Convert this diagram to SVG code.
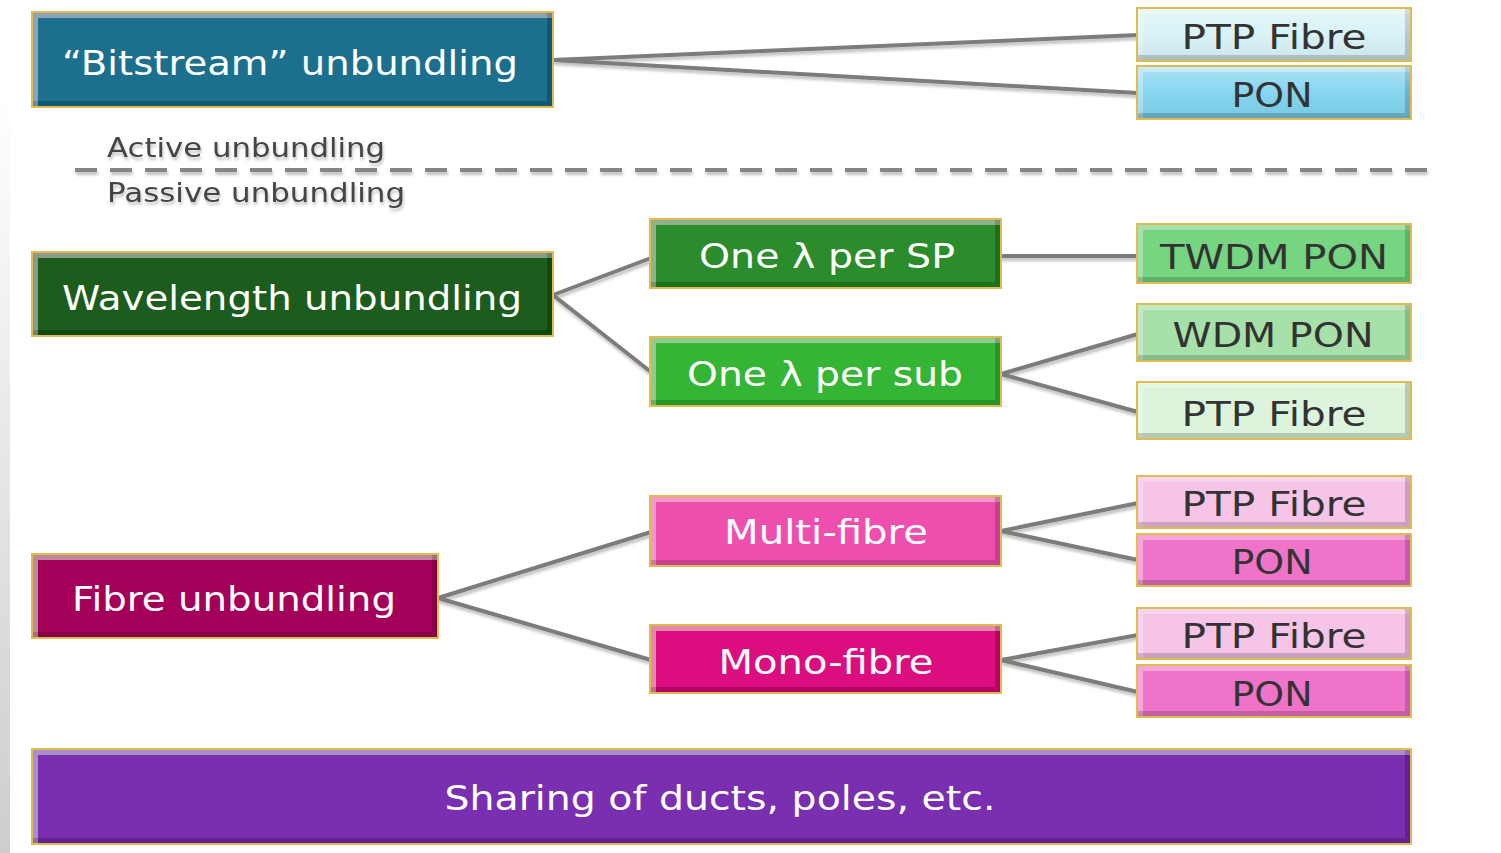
<svg xmlns="http://www.w3.org/2000/svg" width="1501" height="853" viewBox="0 0 1501 853">
  <defs>
    <style>
      .edge { fill: #e2bb4e; }
      .box { filter: url(#bevel); }
      .lbl { font-family: "DejaVu Sans", Verdana, sans-serif; font-size: 34px; text-anchor: middle; }
      .light { fill: #ffffff; }
      .dark { fill: #333333; }
      .side { font-family: "DejaVu Sans", Verdana, sans-serif; font-size: 26px; fill: #444444; filter: url(#soft); }
      .wire { stroke: #7c7c7c; stroke-width: 4; fill: none; stroke-linecap: round; }
    </style>
    <linearGradient id="strip" x1="0" y1="0" x2="0" y2="1">
      <stop offset="0" stop-color="#ffffff"/>
      <stop offset="1" stop-color="#cdcdcd"/>
    </linearGradient>
    <linearGradient id="gloss" x1="0" y1="0" x2="0" y2="1">
      <stop offset="0" stop-color="#ffffff" stop-opacity="0.35"/>
      <stop offset="0.5" stop-color="#ffffff" stop-opacity="0.05"/>
      <stop offset="1" stop-color="#000000" stop-opacity="0.05"/>
    </linearGradient>
    <!-- bevelled edges: light top/left band, dark bottom/right band -->
    <filter id="bevel" x="-5%" y="-10%" width="110%" height="120%">
      <feOffset in="SourceAlpha" dx="5" dy="5" result="o1"/>
      <feComposite in="SourceAlpha" in2="o1" operator="out" result="tl"/>
      <feFlood flood-color="#ffffff" flood-opacity="0.25"/>
      <feComposite in2="tl" operator="in" result="hi"/>
      <feOffset in="SourceAlpha" dx="-5" dy="-5" result="o2"/>
      <feComposite in="SourceAlpha" in2="o2" operator="out" result="br"/>
      <feFlood flood-color="#000000" flood-opacity="0.35"/>
      <feComposite in2="br" operator="in" result="sh"/>
      <feMerge>
        <feMergeNode in="SourceGraphic"/>
        <feMergeNode in="hi"/>
        <feMergeNode in="sh"/>
      </feMerge>
    </filter>
    <!-- soft drop shadow, sized in user space so thin horizontal lines keep it -->
    <filter id="soft" filterUnits="userSpaceOnUse" x="0" y="0" width="1501" height="853">
      <feGaussianBlur in="SourceAlpha" stdDeviation="1.5"/>
      <feOffset dx="1" dy="3" result="b"/>
      <feFlood flood-color="#000000" flood-opacity="0.25"/>
      <feComposite in2="b" operator="in" result="s"/>
      <feMerge><feMergeNode in="s"/><feMergeNode in="SourceGraphic"/></feMerge>
    </filter>
  </defs>

  <rect width="1501" height="853" fill="#ffffff"/>
  <rect x="0" y="93" width="10" height="760" fill="url(#strip)"/>

  <!-- connectors -->
  <g id="connectors" filter="url(#soft)">
    <path class="wire" d="M553 60 L1138 35 M553 60 L1138 93"/>
    <path class="wire" d="M553 295 L651 258 M553 295 L651 372"/>
    <path class="wire" d="M1001 256 L1138 256"/>
    <path class="wire" d="M1001 374 L1138 334 M1001 374 L1138 412"/>
    <path class="wire" d="M438 598 L651 532 M438 598 L651 660"/>
    <path class="wire" d="M1001 531 L1138 503 M1001 531 L1138 560"/>
    <path class="wire" d="M1001 660 L1138 635 M1001 660 L1138 692"/>
  </g>

  <!-- active / passive divider -->
  <g id="divider">
    <line x1="75" y1="170" x2="1440" y2="170" stroke="#858585" stroke-width="4" stroke-dasharray="22 13" filter="url(#soft)"/>
    <text class="side" x="107" y="157" textLength="278" lengthAdjust="spacingAndGlyphs">Active unbundling</text>
    <text class="side" x="107" y="202" textLength="298" lengthAdjust="spacingAndGlyphs">Passive unbundling</text>
  </g>

  <g id="bitstream">
    <rect class="edge" x="31" y="11" width="523" height="97"/>
    <rect class="box" x="33" y="13" width="519" height="93" fill="#1b6f8e"/>
    <text class="lbl light" x="290" y="75" textLength="456" lengthAdjust="spacingAndGlyphs">“Bitstream” unbundling</text>
  </g>
  <g id="ptp-active">
    <rect class="edge" x="1136" y="7" width="276" height="55"/>
    <rect class="box" x="1138" y="9" width="272" height="51" fill="#d6f2f6"/>
    <rect x="1138" y="9" width="272" height="51" fill="url(#gloss)"/>
    <text class="lbl dark" x="1274" y="49" textLength="185" lengthAdjust="spacingAndGlyphs">PTP Fibre</text>
  </g>
  <g id="pon-active">
    <rect class="edge" x="1136" y="65" width="276" height="55"/>
    <rect class="box" x="1138" y="67" width="272" height="51" fill="#80d3ef"/>
    <rect x="1138" y="67" width="272" height="51" fill="url(#gloss)"/>
    <text class="lbl dark" x="1272" y="107" textLength="81" lengthAdjust="spacingAndGlyphs">PON</text>
  </g>

  <g id="wavelength">
    <rect class="edge" x="31" y="251" width="523" height="86"/>
    <rect class="box" x="33" y="253" width="519" height="82" fill="#1f5c1f"/>
    <text class="lbl light" x="292" y="310" textLength="460" lengthAdjust="spacingAndGlyphs">Wavelength unbundling</text>
  </g>
  <g id="lambda-sp">
    <rect class="edge" x="649" y="218" width="353" height="71"/>
    <rect class="box" x="651" y="220" width="349" height="67" fill="#2a8c2a"/>
    <text class="lbl light" x="827" y="268" textLength="256" lengthAdjust="spacingAndGlyphs">One λ per SP</text>
  </g>
  <g id="lambda-sub">
    <rect class="edge" x="649" y="336" width="353" height="71"/>
    <rect class="box" x="651" y="338" width="349" height="67" fill="#36b536"/>
    <text class="lbl light" x="825" y="386" textLength="276" lengthAdjust="spacingAndGlyphs">One λ per sub</text>
  </g>
  <g id="twdm-pon">
    <rect class="edge" x="1136" y="223" width="276" height="61"/>
    <rect class="box" x="1138" y="225" width="272" height="57" fill="#74d580"/>
    <text class="lbl dark" x="1274" y="269" textLength="228" lengthAdjust="spacingAndGlyphs">TWDM PON</text>
  </g>
  <g id="wdm-pon">
    <rect class="edge" x="1136" y="303" width="276" height="59"/>
    <rect class="box" x="1138" y="305" width="272" height="55" fill="#a7e1a9"/>
    <text class="lbl dark" x="1273" y="347" textLength="201" lengthAdjust="spacingAndGlyphs">WDM PON</text>
  </g>
  <g id="ptp-wdm">
    <rect class="edge" x="1136" y="381" width="276" height="59"/>
    <rect class="box" x="1138" y="383" width="272" height="55" fill="#dcf4dc"/>
    <text class="lbl dark" x="1274" y="426" textLength="185" lengthAdjust="spacingAndGlyphs">PTP Fibre</text>
  </g>

  <g id="fibre">
    <rect class="edge" x="31" y="553" width="408" height="86"/>
    <rect class="box" x="33" y="555" width="404" height="82" fill="#a4005a"/>
    <text class="lbl light" x="234" y="611" textLength="324" lengthAdjust="spacingAndGlyphs">Fibre unbundling</text>
  </g>
  <g id="multi-fibre">
    <rect class="edge" x="649" y="495" width="353" height="72"/>
    <rect class="box" x="651" y="497" width="349" height="68" fill="#ee50ae"/>
    <text class="lbl light" x="826" y="544" textLength="204" lengthAdjust="spacingAndGlyphs">Multi-fibre</text>
  </g>
  <g id="mono-fibre">
    <rect class="edge" x="649" y="624" width="353" height="70"/>
    <rect class="box" x="651" y="626" width="349" height="66" fill="#dc0f7e"/>
    <text class="lbl light" x="826" y="674" textLength="215" lengthAdjust="spacingAndGlyphs">Mono-fibre</text>
  </g>
  <g id="ptp-multi">
    <rect class="edge" x="1136" y="475" width="276" height="54"/>
    <rect class="box" x="1138" y="477" width="272" height="50" fill="#f6c4e7"/>
    <text class="lbl dark" x="1274" y="516" textLength="185" lengthAdjust="spacingAndGlyphs">PTP Fibre</text>
  </g>
  <g id="pon-multi">
    <rect class="edge" x="1136" y="533" width="276" height="54"/>
    <rect class="box" x="1138" y="535" width="272" height="50" fill="#ef73c8"/>
    <text class="lbl dark" x="1272" y="574" textLength="81" lengthAdjust="spacingAndGlyphs">PON</text>
  </g>
  <g id="ptp-mono">
    <rect class="edge" x="1136" y="607" width="276" height="53"/>
    <rect class="box" x="1138" y="609" width="272" height="49" fill="#f6c4e7"/>
    <text class="lbl dark" x="1274" y="648" textLength="185" lengthAdjust="spacingAndGlyphs">PTP Fibre</text>
  </g>
  <g id="pon-mono">
    <rect class="edge" x="1136" y="664" width="276" height="54"/>
    <rect class="box" x="1138" y="666" width="272" height="50" fill="#ef73c8"/>
    <text class="lbl dark" x="1272" y="706" textLength="81" lengthAdjust="spacingAndGlyphs">PON</text>
  </g>

  <g id="sharing">
    <rect class="edge" x="31" y="748" width="1381" height="97"/>
    <rect class="box" x="33" y="750" width="1377" height="93" fill="#7a2fb0"/>
    <text class="lbl light" x="720" y="810" textLength="551" lengthAdjust="spacingAndGlyphs">Sharing of ducts, poles, etc.</text>
  </g>
</svg>
